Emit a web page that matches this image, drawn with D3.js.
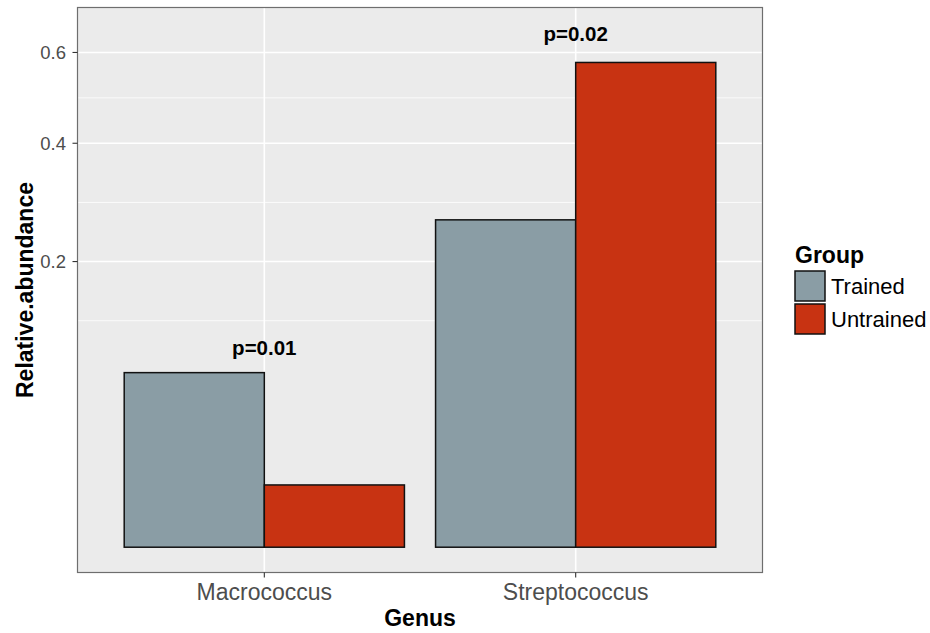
<!DOCTYPE html>
<html>
<head>
<meta charset="utf-8">
<script src="https://cdn.jsdelivr.net/npm/d3@7"></script>
<style>
  body { margin: 0; background: #fff; }
  text { font-family: "Liberation Sans", Arial, sans-serif; }
</style>
</head>
<body>
<div class="chart"></div>
<script>
// data
var genera = ['Macrococcus', 'Streptococcus'];
var groups = ['Trained', 'Untrained'];
var trained = [0.0747, 0.2627];
var untrained = [0.0095, 0.576];
var pLabels = ['p=0.01', 'p=0.02'];
var pPos = [0.097, 0.646];
var yTicks = [0.2, 0.4, 0.6];
var colors = ['#8A9DA5', '#C83312'];

var W = 930, H = 633;
var panel = { left: 77.5, right: 762.5, top: 7.5, bottom: 572.5 };

var svg = d3.select('.chart').append('svg').attr('width', W).attr('height', H);

var x = d3.scaleBand().domain(genera)
  .range([panel.left, panel.right])
  .paddingInner(0.1).paddingOuter(0.15);
var xSub = d3.scaleBand().domain(groups).range([0, x.bandwidth()]);

// sqrt y: linear scale over sqrt(value), expanded like ggplot
var sTop = 0.845, sBot = -0.0396;
var yS = d3.scaleLinear().domain([sBot, sTop]).range([panel.bottom, panel.top]);
var yv = function (v) { return yS(Math.sqrt(v)); };

// panel background
svg.append('rect')
  .attr('x', panel.left).attr('y', panel.top)
  .attr('width', panel.right - panel.left).attr('height', panel.bottom - panel.top)
  .attr('fill', '#EBEBEB');

// minor grid (midpoints in sqrt space)
var major = yTicks.map(Math.sqrt);
var bd = major[1] - major[0];
var ext = [major[0] - bd].concat(major).concat([major[major.length - 1] + bd]);
var minor = [];
for (var i = 0; i < ext.length - 1; i++) minor.push((ext[i] + ext[i + 1]) / 2);
minor = minor.filter(function (m) { return m > sBot && m < sTop; });

svg.selectAll('.minor').data(minor).enter().append('line')
  .attr('x1', panel.left).attr('x2', panel.right)
  .attr('y1', function (d) { return yS(d); }).attr('y2', function (d) { return yS(d); })
  .attr('stroke', '#fff').attr('stroke-width', 0.8);

svg.selectAll('.major').data(yTicks).enter().append('line')
  .attr('x1', panel.left).attr('x2', panel.right)
  .attr('y1', yv).attr('y2', yv)
  .attr('stroke', '#fff').attr('stroke-width', 1.6);

svg.selectAll('.vgrid').data(genera).enter().append('line')
  .attr('x1', function (d) { return x(d) + x.bandwidth() / 2; })
  .attr('x2', function (d) { return x(d) + x.bandwidth() / 2; })
  .attr('y1', panel.top).attr('y2', panel.bottom)
  .attr('stroke', '#fff').attr('stroke-width', 1.6);

// bars
var rows = [];
genera.forEach(function (g, i) {
  rows.push({ genus: g, group: 'Trained', value: trained[i] });
  rows.push({ genus: g, group: 'Untrained', value: untrained[i] });
});

svg.selectAll('.bar').data(rows).enter().append('rect')
  .attr('x', function (d) { return x(d.genus) + xSub(d.group); })
  .attr('width', xSub.bandwidth())
  .attr('y', function (d) { return yv(d.value); })
  .attr('height', function (d) { return yv(0) - yv(d.value); })
  .attr('fill', function (d) { return colors[groups.indexOf(d.group)]; })
  .attr('stroke', '#111').attr('stroke-width', 1.5);

// p-value labels
svg.selectAll('.plab').data(genera).enter().append('text')
  .attr('x', function (d) { return x(d) + x.bandwidth() / 2; })
  .attr('y', function (d, i) { return yv(pPos[i]); })
  .attr('dy', '0.35em')
  .attr('text-anchor', 'middle')
  .attr('font-size', 20.5).attr('font-weight', 'bold')
  .text(function (d, i) { return pLabels[i]; });

// panel border
svg.append('rect')
  .attr('x', panel.left).attr('y', panel.top)
  .attr('width', panel.right - panel.left).attr('height', panel.bottom - panel.top)
  .attr('fill', 'none').attr('stroke', '#6E6E6E').attr('stroke-width', 1.2);

// y axis ticks + labels
svg.selectAll('.ytick').data(yTicks).enter().append('line')
  .attr('x1', panel.left - 5).attr('x2', panel.left)
  .attr('y1', yv).attr('y2', yv)
  .attr('stroke', '#333').attr('stroke-width', 1.1);
svg.selectAll('.ylab').data(yTicks).enter().append('text')
  .attr('x', 66).attr('y', yv).attr('dy', '0.35em')
  .attr('text-anchor', 'end').attr('font-size', 18.5).attr('fill', '#4D4D4D')
  .text(function (d) { return d3.format('.1f')(d); });

// x axis ticks + labels
svg.selectAll('.xtick').data(genera).enter().append('line')
  .attr('x1', function (d) { return x(d) + x.bandwidth() / 2; })
  .attr('x2', function (d) { return x(d) + x.bandwidth() / 2; })
  .attr('y1', panel.bottom).attr('y2', panel.bottom + 5)
  .attr('stroke', '#333').attr('stroke-width', 1.1);
svg.selectAll('.xlab').data(genera).enter().append('text')
  .attr('x', function (d) { return x(d) + x.bandwidth() / 2; })
  .attr('y', 600)
  .attr('text-anchor', 'middle').attr('font-size', 23).attr('fill', '#4D4D4D')
  .text(function (d) { return d; });

// axis titles
svg.append('text').attr('x', (panel.left + panel.right) / 2).attr('y', 626)
  .attr('text-anchor', 'middle').attr('font-size', 23).attr('font-weight', 'bold')
  .text('Genus');
svg.append('text')
  .attr('transform', 'translate(33,' + ((panel.top + panel.bottom) / 2) + ') rotate(-90)')
  .attr('text-anchor', 'middle').attr('font-size', 23).attr('font-weight', 'bold')
  .text('Relative.abundance');

// legend
var leg = svg.append('g').attr('transform', 'translate(795,0)');
leg.append('text').attr('x', 0).attr('y', 263)
  .attr('font-size', 23).attr('font-weight', 'bold').text('Group');
var items = leg.selectAll('.item').data(groups).enter().append('g')
  .attr('transform', function (d, i) { return 'translate(0,' + (271 + i * 33) + ')'; });
items.append('rect').attr('width', 30).attr('height', 30)
  .attr('fill', function (d, i) { return colors[i]; })
  .attr('stroke', '#111').attr('stroke-width', 1.5);
items.append('text').attr('x', 36).attr('y', 15).attr('dy', '0.35em')
  .attr('font-size', 22).text(function (d) { return d; });
</script>
</body>
</html>
